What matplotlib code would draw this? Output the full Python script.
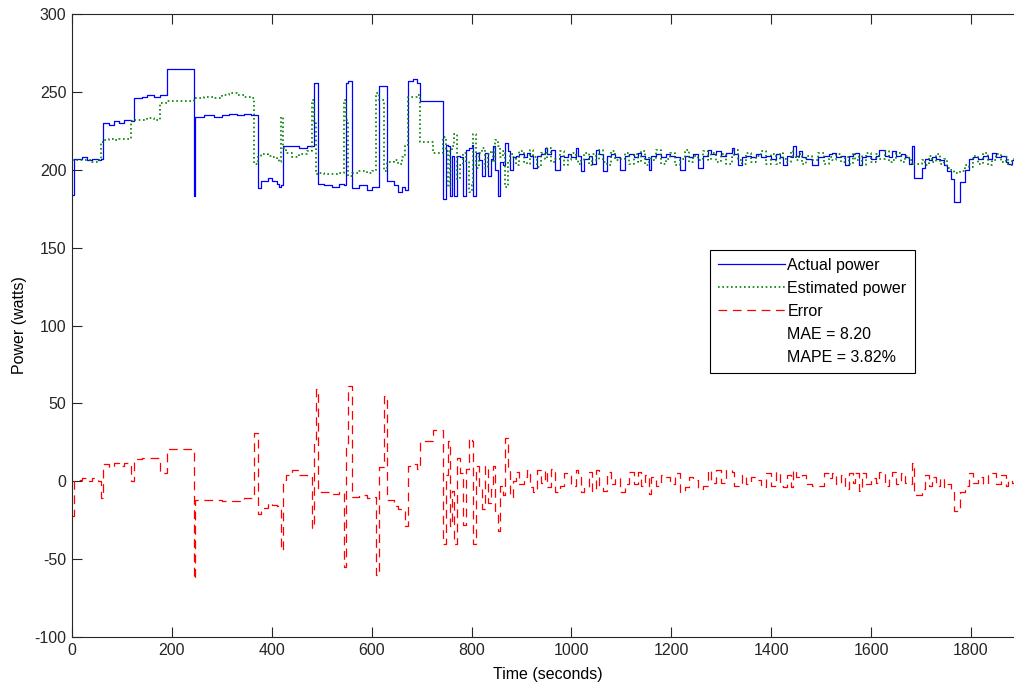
import matplotlib
matplotlib.use("Agg")
import matplotlib.pyplot as plt
from matplotlib.lines import Line2D
import numpy as np

# ---- data ----
time_s = [
    0, 4, 20, 30, 40, 52, 58, 62, 75, 85, 95, 105, 119, 124, 140, 150, 165, 176, 191, 244,
    247, 265, 285, 300, 315, 330, 345, 358, 364, 373, 378, 392, 400, 410, 415, 419, 423, 428,
    440, 455, 470, 481, 485, 488, 493, 505, 520, 535, 545, 549, 553, 561, 575, 590, 600, 608,
    615, 624, 631, 645, 652, 660, 666, 672, 682, 690, 697, 722, 743,
    748, 753, 757, 761, 765, 770, 776, 783, 789, 795, 800, 803, 808, 815, 821, 827, 833, 838,
    843, 847, 853, 857, 862, 867, 872, 877, 882,
    888, 895, 905, 912, 918, 924, 931, 940, 947, 952, 960, 968, 977, 985, 993, 1000, 1010,
    1014, 1019, 1026, 1035, 1042, 1050, 1056, 1064, 1071, 1080, 1088, 1097, 1107, 1115, 1125,
    1133, 1140, 1148, 1156, 1160, 1170, 1180, 1190, 1198, 1207, 1217, 1227, 1236, 1244, 1254,
    1264, 1274, 1280, 1290, 1300, 1310, 1321, 1325, 1334, 1341, 1350, 1360, 1370, 1380, 1390,
    1400, 1410, 1418, 1424, 1431, 1440, 1444, 1450, 1456, 1462, 1470, 1481, 1494, 1505, 1515,
    1521, 1530, 1540, 1548, 1555, 1563, 1568, 1575, 1581, 1590, 1600, 1610, 1616, 1628, 1636,
    1642, 1650, 1660, 1668, 1675, 1681, 1686, 1701, 1708, 1715, 1722, 1730, 1738, 1745, 1752,
    1759, 1765, 1778, 1788, 1795, 1805, 1815, 1825, 1835, 1842, 1850, 1860, 1870, 1875, 1882,
    1890,
]
actual_w = [
    184, 207, 208, 206, 207, 206, 207, 230, 229, 231, 230, 232, 231, 246, 247, 248, 247, 248, 265, 183,
    234, 235, 234, 235, 236, 235, 236, 235, 235, 188, 193, 195, 193, 191, 189, 190, 215, 215,
    215, 214, 215, 215, 256, 256, 191, 190, 189, 191, 190, 256, 257, 188, 190, 187, 189, 189,
    254, 254, 193, 190, 186, 189, 187, 257, 258, 256, 244, 244, 181,
    216, 215, 183, 209, 183, 209, 208, 183, 213, 214, 216, 183, 211, 206, 196, 211, 196, 207,
    215, 200, 183, 205, 203, 217, 212, 200, 208,
    209, 210, 208, 211, 209, 201, 209, 210, 214, 210, 213, 200, 209, 208, 210, 208, 214,
    209, 199, 207, 209, 204, 213, 210, 199, 209, 210, 208, 200, 209, 210, 208,
    211, 209, 207, 200, 209, 210, 208, 210, 209, 208, 200, 209, 208, 210, 201,
    209, 213, 210, 212, 209, 211, 214, 210, 203, 208, 209, 208, 210, 208, 209,
    207, 210, 208, 203, 209, 208, 215, 209, 212, 208, 207, 203, 208, 209, 210,
    211, 208, 209, 203, 209, 210, 211, 203, 208, 209, 207, 209, 213, 209, 208,
    212, 209, 210, 208, 204, 215, 195, 201, 207, 206, 208, 207, 206, 203, 199,
    194, 179, 192, 200, 207, 208, 207, 209, 207, 211, 208, 209, 205, 204, 206,
    206,
]
estimated_w = [
    206, 206, 206, 206, 205, 206, 218, 219, 220, 219, 220, 220, 231, 232, 232, 233, 232, 243, 244, 246,
    246, 247, 246, 248, 249, 248, 247, 246, 204, 209, 210, 209, 208, 207, 205, 234, 214, 211,
    208, 210, 212, 245, 230, 197, 198, 197, 197, 198, 245, 232, 196, 198, 199, 198, 199, 249,
    245, 199, 205, 206, 204, 208, 216, 247, 247, 248, 218, 211, 221,
    212, 189, 212, 215, 223, 194, 203, 211, 205, 186, 190, 223, 201, 211, 214, 201, 210, 212,
    205, 219, 215, 208, 212, 189, 205, 210, 208,
    203, 212, 205, 204, 213, 208, 202, 211, 207, 214, 205, 207, 212, 203, 206, 211, 207,
    204, 206, 211, 203, 210, 206, 213, 205, 203, 212, 206, 207, 211, 204, 210,
    205, 212, 203, 208, 206, 213, 204, 207, 211, 203, 207, 213, 205, 209, 206,
    212, 206, 211, 205, 210, 204, 208, 213, 206, 204, 211, 205, 209, 212, 204,
    210, 204, 211, 207, 205, 212, 208, 206, 210, 204, 209, 206, 211, 204, 208,
    206, 210, 205, 208, 204, 211, 206, 209, 203, 211, 205, 210, 207, 212, 205,
    206, 211, 205, 209, 206, 203, 204, 206, 203, 209, 205, 210, 204, 207, 201,
    200, 198, 199, 203, 202, 209, 204, 211, 203, 206, 210, 205, 208, 203, 207,
    205,
]
error_w = np.array(actual_w) - np.array(estimated_w)  # Error = actual - estimated

x_ticks = [0, 200, 400, 600, 800, 1000, 1200, 1400, 1600, 1800]
y_ticks = [-100, -50, 0, 50, 100, 150, 200, 250, 300]
legend_labels = ["Actual power", "Estimated power", "Error", "MAE = 8.20", "MAPE = 3.82%"]

# ---- figure ----
plt.rcParams["font.family"] = ["Liberation Sans", "DejaVu Sans"]
plt.rcParams["axes.unicode_minus"] = False
W, H = 1014, 686
fig = plt.figure(figsize=(W / 100, H / 100), dpi=100)
px_left, px_right, px_top, px_bot = 72, 1024, 14, 637
ax = fig.add_axes([px_left / W, 1 - px_bot / H, (px_right - px_left) / W, (px_bot - px_top) / H])

l1, = ax.plot(time_s, actual_w, drawstyle="steps-post", color="#0000ff", lw=0.9)
l2, = ax.plot(time_s, estimated_w, drawstyle="steps-post", color="#008000", lw=1.2,
              linestyle=(0, (1, 1.6)))
l3, = ax.plot(time_s, error_w, drawstyle="steps-post", color="#ff0000", lw=0.9,
              linestyle=(0, (7, 4.5)))

ax.set_xlim(0, (px_right - px_left) * 1800 / 899)
ax.set_ylim(-100, 300)
ax.set_xticks(x_ticks)
ax.set_yticks(y_ticks)
ax.tick_params(direction="in", length=7, width=0.8, labelsize=11.5, colors="#262626",
               top=True, right=True)
ax.tick_params(axis="x", pad=4)
ax.tick_params(axis="y", pad=4)
for s in ax.spines.values():
    s.set_linewidth(0.8)
    s.set_color("#262626")

ax.set_xlabel("Time (seconds)", fontsize=11.5, labelpad=7)
ax.set_ylabel("Power (watts)", fontsize=11.5, labelpad=5)

h4 = Line2D([], [], linestyle="none")
h5 = Line2D([], [], linestyle="none")
leg = ax.legend([l1, l2, l3, h4, h5], legend_labels, loc="upper left",
                bbox_to_anchor=(710 / W, 1 - 250 / H), bbox_transform=fig.transFigure,
                borderaxespad=0, fontsize=11.5, handlelength=4.2, handletextpad=0.15,
                labelspacing=0.5, borderpad=0.5, fancybox=False, framealpha=1)
leg.get_frame().set_edgecolor("black")
leg.get_frame().set_linewidth(0.8)

fig.savefig("out.png", dpi=100)
